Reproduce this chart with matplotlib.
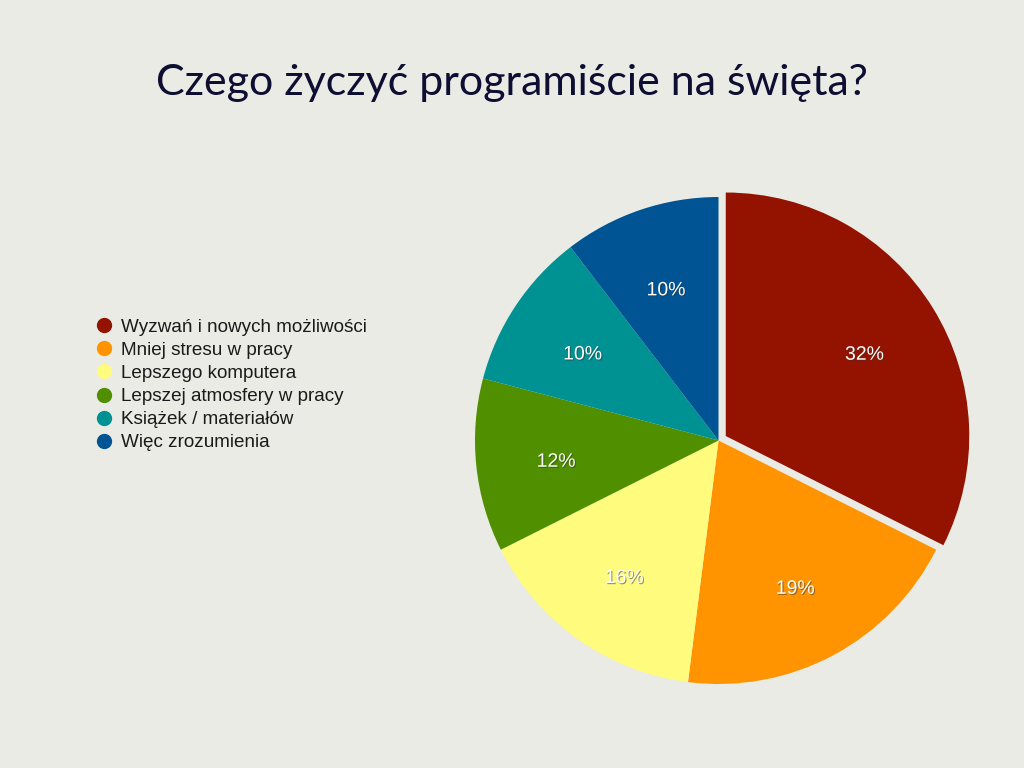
import matplotlib
matplotlib.use('Agg')
import matplotlib.pyplot as plt
import matplotlib.patheffects as pe
from matplotlib.lines import Line2D

labels = ['Wyzwań i nowych możliwości', 'Mniej stresu w pracy', 'Lepszego komputera',
          'Lepszej atmosfery w pracy', 'Książek / materiałów', 'Więc zrozumienia']
# slice shares; printed labels are the ones shown on the chart
shares = [32.4, 19.6, 15.6, 11.5, 10.5, 10.4]
pct_labels = ['32%', '19%', '16%', '12%', '10%', '10%']
colors = ['#931200', '#FF9300', '#FFFB7D', '#4F8F00', '#009193', '#005493']
explode = [0.035, 0, 0, 0, 0, 0]

bg = '#EBEBE6'
fig = plt.figure(figsize=(10.24, 7.68), dpi=100, facecolor=bg)

# pie axes: centre at (718, 440) px, radius 243 px, limits +-1.1
cx, cy, r, lim = 718.5, 440.5, 243.5, 1.1
half = r * lim
ax = fig.add_axes([(cx - half) / 1024, (768 - cy - half) / 768, 2 * half / 1024, 2 * half / 768])
ax.set_facecolor(bg)

wedges, texts, autotexts = ax.pie(shares, colors=colors, explode=explode, startangle=90,
                                  counterclock=False, autopct='%.0f%%',
                                  pctdistance=0.67, wedgeprops=dict(linewidth=0),
                                  textprops=dict(color='white', fontsize=14,
                                                 family='Liberation Sans'))
for t, s in zip(autotexts, pct_labels):
    t.set_text(s)
    x, y = t.get_position()
    t.set_position((x, y - 0.02))
    t.set_path_effects([pe.withSimplePatchShadow(offset=(0.8, -0.8), shadow_rgbFace='#333333', alpha=0.5)])
ax.set_xlim(-lim, lim)
ax.set_ylim(-lim, lim)
ax.set_aspect('equal')
ax.axis('off')

fig.text(0.5, 1 - 83 / 768, 'Czego życzyć programiście na święta?', ha='center', va='center',
         fontsize=31, color='#0E0E33', family='Lato')

handles = [Line2D([], [], marker='o', linestyle='none', markersize=10,
                  markerfacecolor=c, markeredgecolor=c) for c in colors]
fig.legend(handles, labels, loc='center left', bbox_to_anchor=(88 / 1024, 1 - 385 / 768),
           frameon=False, borderpad=0, handlelength=0.7, handletextpad=0.55,
           labelspacing=0.31, prop=dict(family='Liberation Sans', size=13.6),
           labelcolor='#1A1A1A')

fig.savefig('out.png', dpi=100, facecolor=bg)
